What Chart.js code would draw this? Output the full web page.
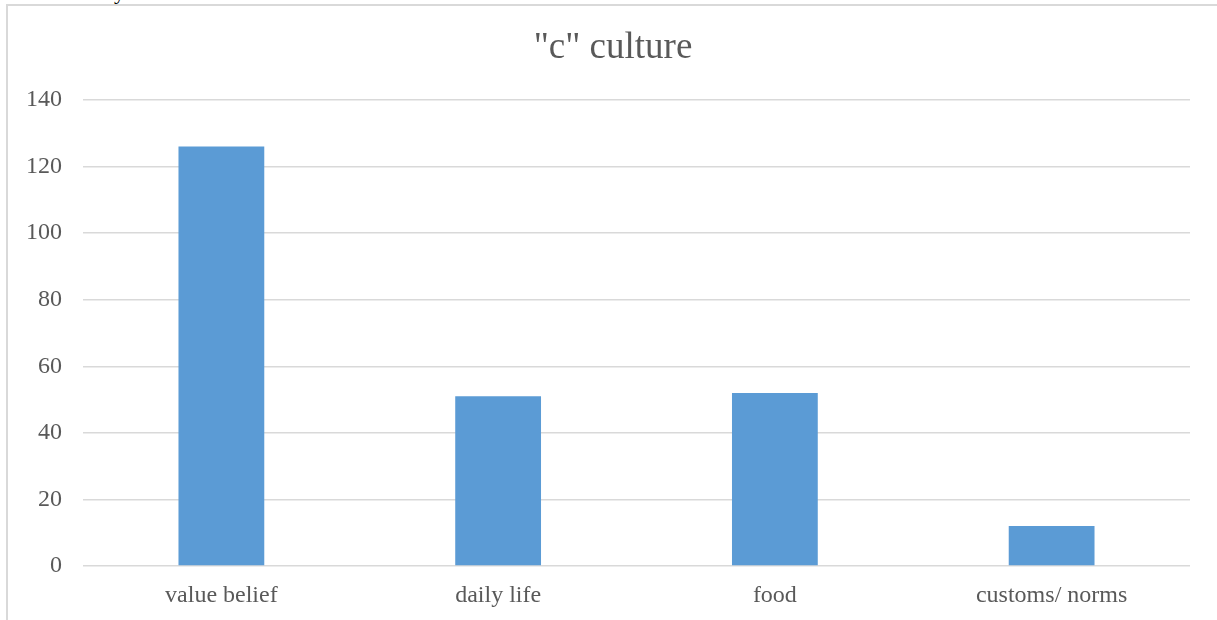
<!DOCTYPE html>
<html>
<head>
<meta charset="utf-8">
<title>"c" culture</title>
<script src="https://cdn.jsdelivr.net/npm/chart.js@4"></script>
<style>
    html, body {
        margin: 0;
        padding: 0;
        background: #ffffff;
        overflow: hidden;
    }
    #wrap {
        position: relative;
        width: 1217px;
        height: 620px;
        overflow: hidden;
    }
    /* frame around the chart, open to the right and bottom */
    #frame {
        position: absolute;
        left: 6px;
        top: 4px;
        right: -10px;
        bottom: -10px;
        border-left: 2px solid #d9d9d9;
        border-top: 2px solid #d9d9d9;
    }
    /* tail of the line of text sitting above the chart */
    #above {
        position: absolute;
        left: 114px;
        top: -19px;
        font: 22px/1 "Liberation Serif", serif;
        color: #000;
    }
    #chart {
        position: absolute;
        left: 0;
        top: 0;
    }
</style>
</head>
<body>
<div id="wrap">
    <div id="above">y</div>
    <div id="frame"></div>
    <canvas id="chart" width="1217" height="620"></canvas>
</div>
<script>
    // Chart data
    const chartTitle = '"c" culture';
    const categories = ['value belief', 'daily life', 'food', 'customs/ norms'];
    const counts = [126, 51, 52, 12];
    const yTicks = [0, 20, 40, 60, 80, 100, 120, 140];

    const serif = '"Liberation Serif", "Times New Roman", serif';
    const textGrey = '#595959';
    const gridGrey = '#d9d9d9';

    // Title centred on the whole frame rather than on the plot area
    const frameTitle = {
        id: 'frameTitle',
        afterDraw(chart) {
            const c = chart.ctx;
            c.save();
            c.font = '37px ' + serif;
            c.fillStyle = textGrey;
            c.textAlign = 'center';
            c.textBaseline = 'middle';
            c.fillText(chartTitle, 613, 48);
            c.restore();
        }
    };

    const ctx = document.getElementById('chart').getContext('2d');
    const cultureChart = new Chart(ctx, {
        type: 'bar',
        data: {
            labels: categories,
            datasets: [{
                label: chartTitle,
                data: counts,
                backgroundColor: '#5b9bd5',
                borderWidth: 0,
                categoryPercentage: 1,
                barPercentage: 0.31
            }]
        },
        options: {
            responsive: false,
            animation: false,
            layout: {
                padding: { left: 0, right: 27, top: 100, bottom: 0 }
            },
            plugins: {
                legend: { display: false },
                tooltip: { enabled: false },
                title: { display: false }
            },
            scales: {
                x: {
                    grid: { display: false, drawTicks: false },
                    border: { display: false },
                    ticks: {
                        color: textGrey,
                        padding: 15,
                        maxRotation: 0,
                        font: { family: serif, size: 24 }
                    },
                    afterFit: (scale) => { scale.height = 54; }
                },
                y: {
                    min: yTicks[0],
                    max: yTicks[yTicks.length - 1],
                    afterBuildTicks: (scale) => {
                        scale.ticks = yTicks.map(v => ({ value: v }));
                    },
                    grid: {
                        color: gridGrey,
                        lineWidth: 1.5,
                        drawTicks: false
                    },
                    border: { display: false },
                    ticks: {
                        color: textGrey,
                        padding: 21,
                        font: { family: serif, size: 24 }
                    },
                    afterFit: (scale) => { scale.width = 83; }
                }
            }
        },
        plugins: [frameTitle]
    });
</script>
</body>
</html>
